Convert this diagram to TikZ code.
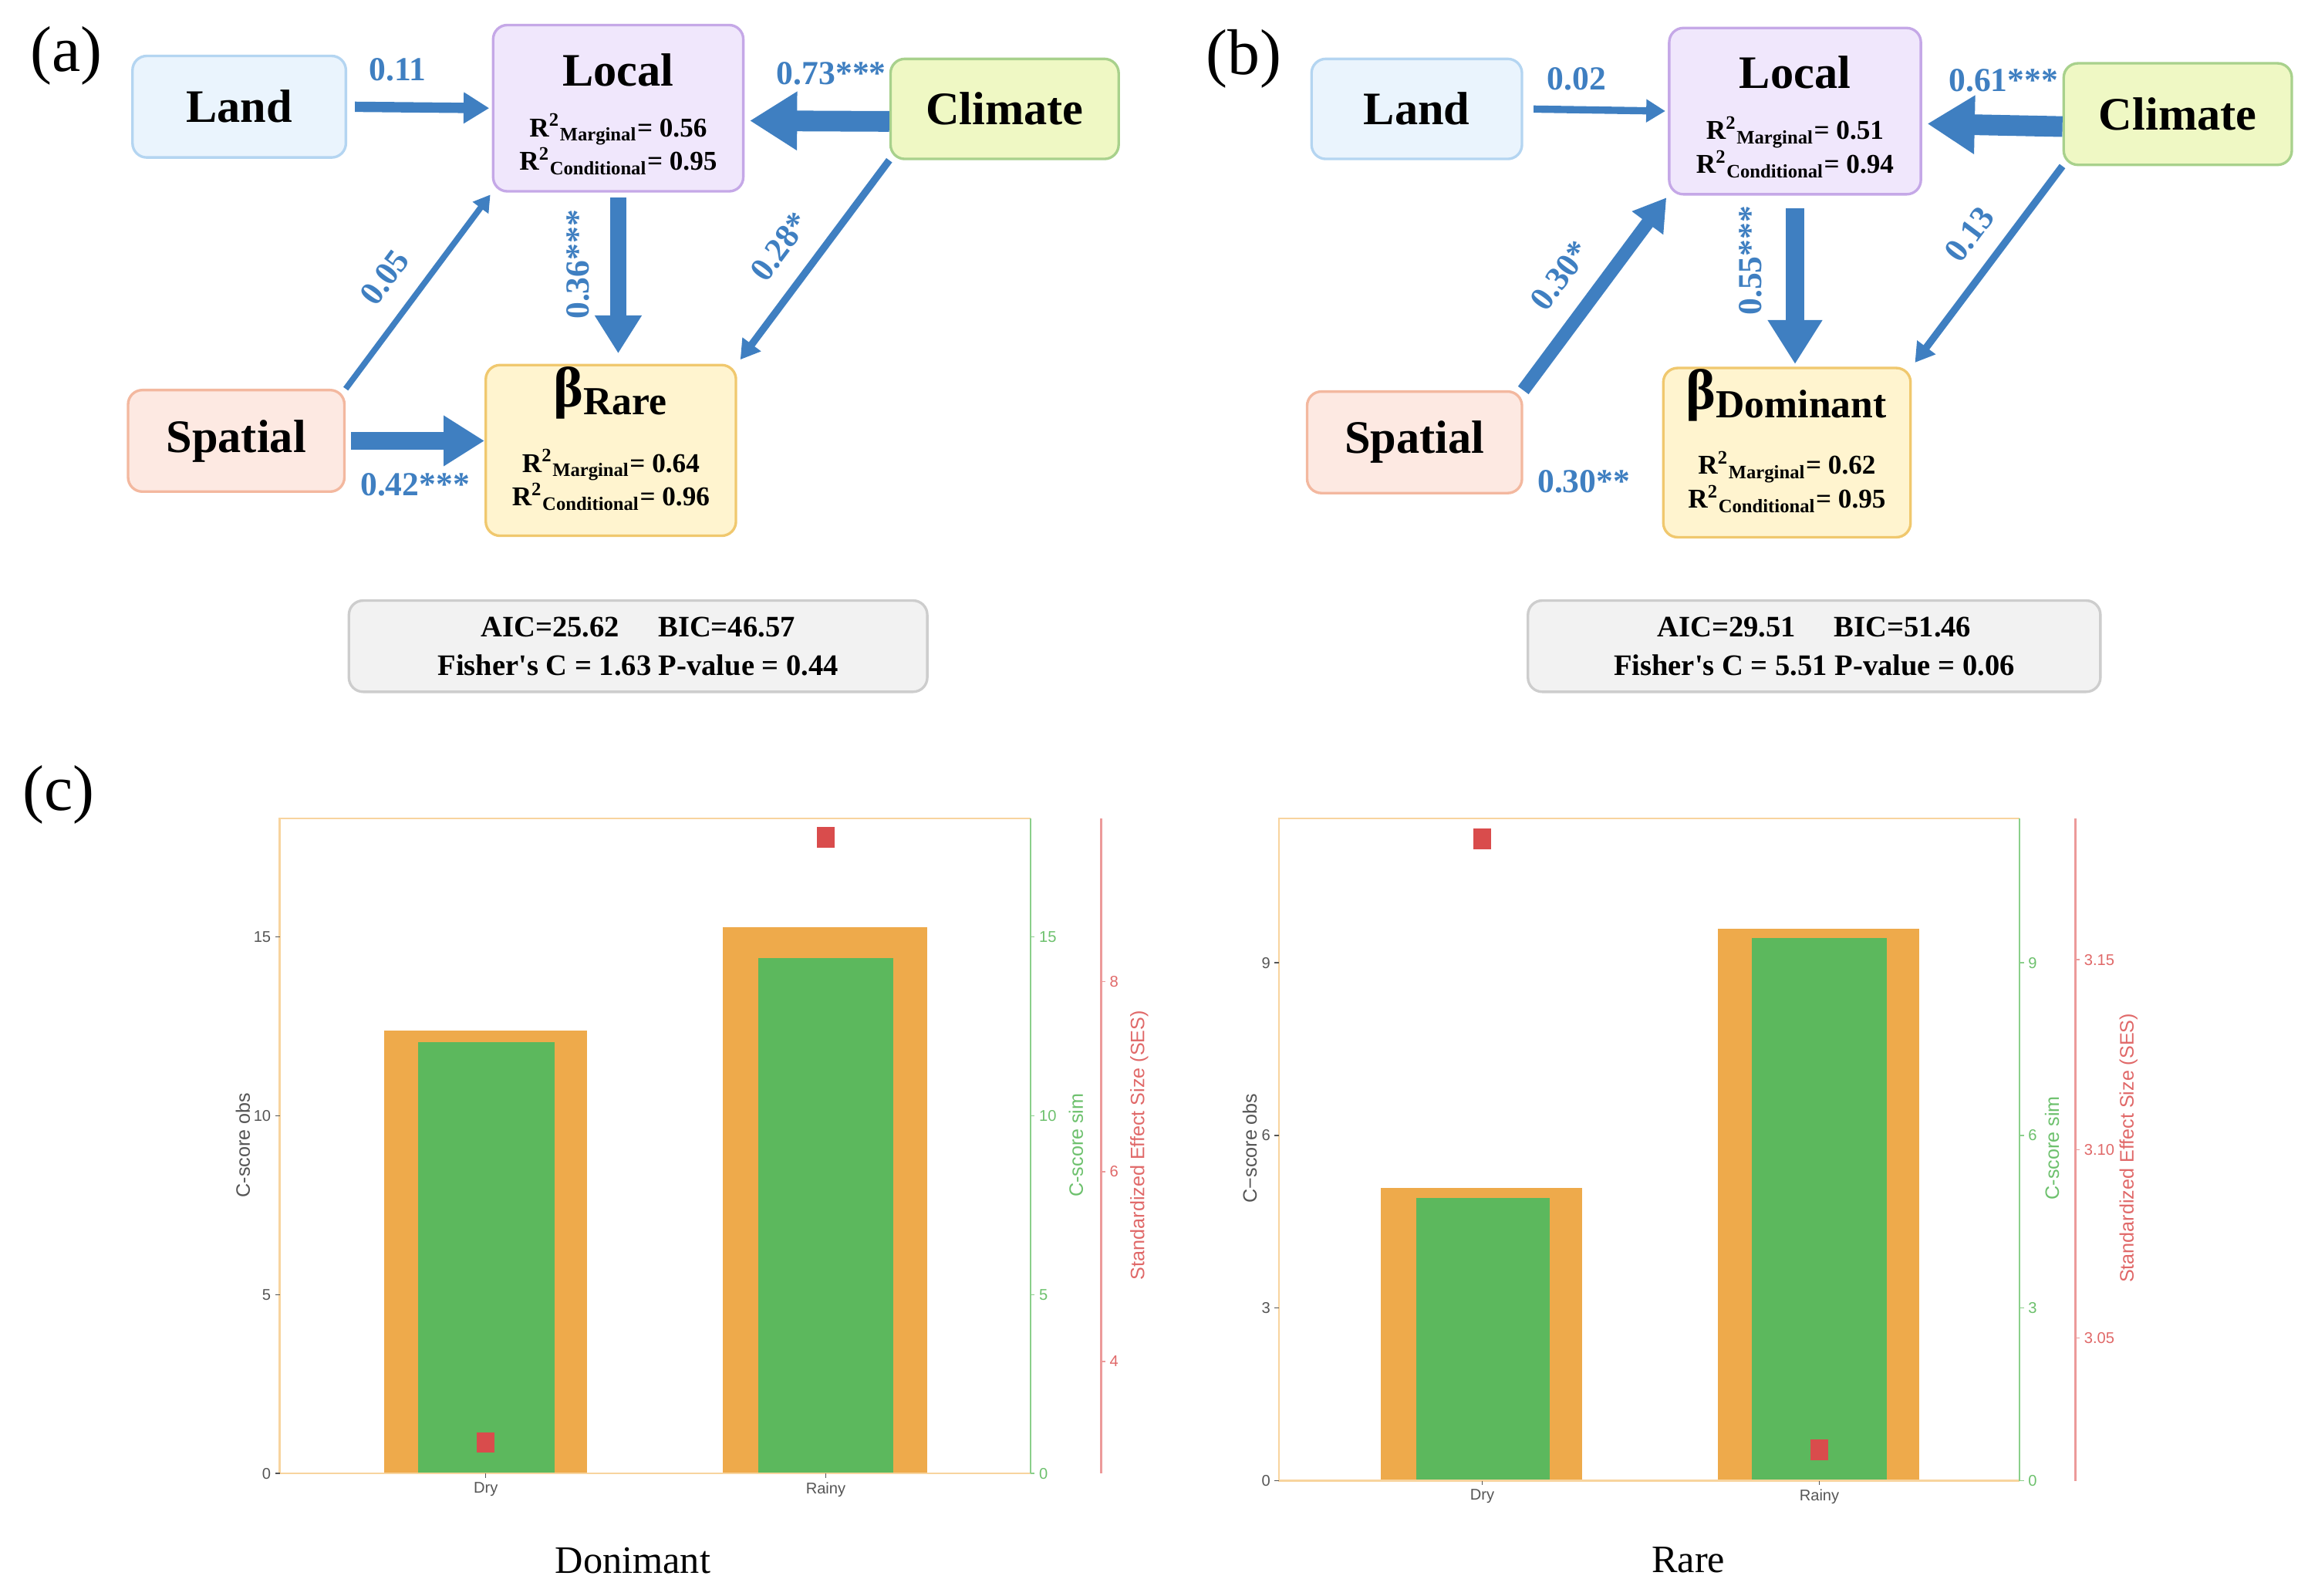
\documentclass[tikz,border=0pt]{standalone}
\usepackage{fontspec}
\setmainfont{Liberation Serif}
\setsansfont{Liberation Sans}
\newfontfamily\fitserif{Liberation Serif}[Ligatures=TeXOff]
\usetikzlibrary{arrows.meta}

\definecolor{arrowblue}{HTML}{3F7FC1}
\definecolor{landfill}{HTML}{EAF4FD}
\definecolor{landline}{HTML}{B4D5F1}
\definecolor{localfill}{HTML}{F0E7FC}
\definecolor{localline}{HTML}{C5A8E7}
\definecolor{climfill}{HTML}{EFF8C4}
\definecolor{climline}{HTML}{A8D18C}
\definecolor{spatfill}{HTML}{FDE9E2}
\definecolor{spatline}{HTML}{F3B89F}
\definecolor{betafill}{HTML}{FFF4CF}
\definecolor{betaline}{HTML}{F0C86E}
\definecolor{fitfill}{HTML}{F2F2F2}
\definecolor{fitline}{HTML}{CDCDCD}
\definecolor{barorange}{HTML}{EEAA4B}
\definecolor{bargreen}{HTML}{5CB85D}
\definecolor{sesred}{HTML}{D94C4C}
\definecolor{frameorange}{HTML}{F8D49E}
\definecolor{simgreen}{HTML}{8ACF8A}
\definecolor{simtext}{HTML}{6CC06C}
\definecolor{sesaxis}{HTML}{EC9A9A}
\definecolor{sestext}{HTML}{E06868}
\definecolor{obsgrey}{HTML}{555555}

\begin{document}
\begin{tikzpicture}[x=0.02cm,y=-0.02cm,
    box node/.style={rectangle,rounded corners=5.5pt,line width=1pt,align=center,inner sep=0pt,font=\fontsize{10.5}{13}\selectfont\bfseries},
    big text/.style={font=\fontsize{18}{21}\selectfont\bfseries},
    fit node/.style={rectangle,rounded corners=5.5pt,line width=1pt,fill=fitfill,draw=fitline,align=center,inner sep=0pt,font=\fitserif\fontsize{11.5}{15}\selectfont\bfseries},
    flow/.style={draw=arrowblue,line width=#1,-{Triangle[length=1.5pt 2.1,width=1.5pt 2.5]}},
    coef label/.style={font=\fontsize{13}{15}\selectfont\bfseries,text=arrowblue,inner sep=1pt},
    panel tag/.style={font=\fontsize{25}{28}\selectfont},
    tick label/.style={font=\sffamily\fontsize{6}{7}\selectfont,inner sep=1.5pt},
    axis title/.style={font=\sffamily\fontsize{7.5}{9}\selectfont,rotate=90},
    group title/.style={font=\fontsize{15}{18}\selectfont}]
    \useasboundingbox (0,0) rectangle (1568,1084);

    % (a) rare
    \node[panel tag] at (45,38) (tagA) {(a)};
    \node[box node,big text,fill=landfill,draw=landline,minimum width=2.9cm,minimum height=1.38cm] at (162.5,72.5) (landA) {Land};
    \node[box node,fill=localfill,draw=localline,minimum width=3.4cm,minimum height=2.26cm] at (420,73.5) (localA)
        {\rule{0pt}{17pt}{\fontsize{18}{21}\selectfont Local}\\[6.7pt] R\textsuperscript{2}\textsubscript{Marginal}= 0.56\\ R\textsuperscript{2}\textsubscript{Conditional}= 0.95};
    \node[box node,big text,fill=climfill,draw=climline,minimum width=3.1cm,minimum height=1.36cm] at (682.5,74) (climA) {Climate};
    \node[box node,big text,fill=spatfill,draw=spatline,minimum width=2.94cm,minimum height=1.38cm] at (160.5,299.5) (spatA) {Spatial};
    \node[box node,fill=betafill,draw=betaline,minimum width=3.4cm,minimum height=2.32cm] at (415,306) (rareA)
        {{\fontsize{22}{24}\selectfont β\textsubscript{Rare}}\\[10.8pt] R\textsuperscript{2}\textsubscript{Marginal}= 0.64\\ R\textsuperscript{2}\textsubscript{Conditional}= 0.96\rule[-11pt]{0pt}{1pt}};
    \node[fit node,minimum width=7.86cm,minimum height=1.24cm] at (433.5,439) (fitA)
        {AIC=25.62\hspace{1.3em}BIC=46.57\\ Fisher's C = 1.63 P-value = 0.44};

    \path[every node/.style={coef label}]
        (landA.east) edge[flow=4pt,shorten <=3pt,shorten >=1pt] node[above=7pt,pos=0.35] {0.11} (localA.west)
        ([yshift=-0.17cm]climA.west) edge[flow=8pt,shorten >=2pt] node[above=9pt,pos=0.4] {0.73***} ([yshift=-0.17cm]localA.east)
        (localA.south) edge[flow=6.3pt,shorten <=2pt,shorten >=4pt] node[rotate=90,above=7pt,pos=0.42] {0.36***} (localA.south |- rareA.north)
        (climA.south west) edge[flow=2.8pt,shorten >=2pt] node[sloped,above=7pt,pos=0.53] {0.28*} (rareA.north east)
        (spatA.north east) edge[flow=2.3pt,shorten >=1pt] node[sloped,above=7pt,pos=0.46] {0.05} (localA.south west)
        (spatA.east) edge[flow=6.8pt,shorten <=2pt] node[below=8pt] {0.42***} (spatA.east -| rareA.west);

    % (b) dominant
    \node[panel tag] at (845,40) (tagB) {(b)};
    \node[box node,big text,fill=landfill,draw=landline,minimum width=2.86cm,minimum height=1.36cm] at (962.5,74) (landB) {Land};
    \node[box node,fill=localfill,draw=localline,minimum width=3.42cm,minimum height=2.26cm] at (1219.5,75.5) (localB)
        {\rule{0pt}{17pt}{\fontsize{18}{21}\selectfont Local}\\[6.7pt] R\textsuperscript{2}\textsubscript{Marginal}= 0.51\\ R\textsuperscript{2}\textsubscript{Conditional}= 0.94};
    \node[box node,big text,fill=climfill,draw=climline,minimum width=3.1cm,minimum height=1.38cm] at (1479.5,77.5) (climB) {Climate};
    \node[box node,big text,fill=spatfill,draw=spatline,minimum width=2.92cm,minimum height=1.38cm] at (961,300.5) (spatB) {Spatial};
    \node[box node,fill=betafill,draw=betaline,minimum width=3.36cm,minimum height=2.3cm] at (1214,307.5) (domB)
        {{\fontsize{22}{24}\selectfont β\textsubscript{Dominant}}\\[10.8pt] R\textsuperscript{2}\textsubscript{Marginal}= 0.62\\ R\textsuperscript{2}\textsubscript{Conditional}= 0.95\rule[-11pt]{0pt}{1pt}};
    \node[fit node,minimum width=7.78cm,minimum height=1.24cm] at (1232.5,439) (fitB)
        {AIC=29.51\hspace{1.3em}BIC=51.46\\ Fisher's C = 5.51 P-value = 0.06};

    \path[every node/.style={coef label}]
        (landB.east) edge[flow=2.8pt,shorten <=4pt,shorten >=1pt] node[above=5pt,pos=0.37] {0.02} (localB.west)
        ([yshift=-0.17cm]climB.west) edge[flow=8pt,shorten >=2pt] node[above=8pt,pos=0.42] {0.61***} ([yshift=-0.17cm]localB.east)
        (localB.south) edge[flow=7.4pt,shorten <=5pt,shorten >=1pt] node[rotate=90,above=8pt,pos=0.38] {0.55***} (localB.south |- domB.north)
        (climB.south west) edge[flow=2.8pt,shorten >=2pt] node[sloped,above=6pt,pos=0.44] {0.13} (domB.north east)
        (spatB.north east) edge[flow=5.1pt,shorten >=1pt] node[sloped,above=7pt,pos=0.47] {0.30*} (localB.south west);
    \node[coef label] at (1076,327) (spatDomB) {0.30**};

    % (c) left chart
    \node[panel tag] at (40,540) (tagC) {(c)};
    \fill[barorange] (261,700) rectangle (399,1001);
    \fill[bargreen] (284,708) rectangle (377,1001);
    \fill[barorange] (491,630) rectangle (630,1001);
    \fill[bargreen] (515,651) rectangle (607,1001);
    \fill[sesred] (324,973) rectangle (336,987);
    \fill[sesred] (555,562) rectangle (567,576);
    \draw[frameorange,line width=0.7pt] (700,556) -- (190,556) -- (190,1001) -- (700,1001);
    \draw[simgreen,line width=0.7pt] (700,556) -- (700,1001);
    \draw[sesaxis,line width=0.7pt] (748,556) -- (748,1001);
    \foreach \v [count=\i] in {0,5,10,15} {
        \draw[obsgrey,line width=0.4pt] (190,{1001-24.3*\v}) -- (187,{1001-24.3*\v}) node[left,tick label,text=obsgrey] (obsD\i) {\v};
        \draw[simgreen,line width=0.4pt] (700,{1001-24.3*\v}) -- (703,{1001-24.3*\v}) node[right,tick label,text=simtext] (simD\i) {\v};
    }
    \foreach \v/\yy [count=\i] in {8/667,6/796,4/925}
        \draw[sesaxis,line width=0.4pt] (748,\yy) -- (751,\yy) node[right,tick label,text=sestext] (sesD\i) {\v};
    \draw[obsgrey,line width=0.4pt] (330,1001) -- (330,1004) node[below,tick label,text=obsgrey] (dryD) {Dry};
    \draw[obsgrey,line width=0.4pt] (561,1001) -- (561,1004) node[below,tick label,text=obsgrey] (rainyD) {Rainy};
    \node[axis title,text=obsgrey] at (165,778) (obsTitleD) {C-score obs};
    \node[axis title,text=simtext] at (731,778) (simTitleD) {C-score sim};
    \node[axis title,text=sestext] at (774,778) (sesTitleD) {Standardized Effect Size (SES)};
    \node[group title] at (430,1060) (nameD) {Donimant};

    % (c) right chart
    \fill[barorange] (938,807) rectangle (1075,1006);
    \fill[bargreen] (962,814) rectangle (1053,1006);
    \fill[barorange] (1167,631) rectangle (1304,1006);
    \fill[bargreen] (1190,637) rectangle (1282,1006);
    \fill[sesred] (1001,563) rectangle (1013,577);
    \fill[sesred] (1230,978) rectangle (1242,992);
    \draw[frameorange,line width=0.7pt] (1372,556) -- (869,556) -- (869,1006) -- (1372,1006);
    \draw[simgreen,line width=0.7pt] (1372,556) -- (1372,1006);
    \draw[sesaxis,line width=0.7pt] (1410,556) -- (1410,1006);
    \foreach \v [count=\i] in {0,3,6,9} {
        \draw[obsgrey,line width=0.4pt] (869,{1006-39.1*\v}) -- (866,{1006-39.1*\v}) node[left,tick label,text=obsgrey] (obsR\i) {\v};
        \draw[simgreen,line width=0.4pt] (1372,{1006-39.1*\v}) -- (1375,{1006-39.1*\v}) node[right,tick label,text=simtext] (simR\i) {\v};
    }
    \foreach \v/\yy [count=\i] in {3.15/652,3.10/781,3.05/909}
        \draw[sesaxis,line width=0.4pt] (1410,\yy) -- (1413,\yy) node[right,tick label,text=sestext] (sesR\i) {\v};
    \draw[obsgrey,line width=0.4pt] (1007,1006) -- (1007,1009) node[below,tick label,text=obsgrey] (dryR) {Dry};
    \draw[obsgrey,line width=0.4pt] (1236,1006) -- (1236,1009) node[below,tick label,text=obsgrey] (rainyR) {Rainy};
    \node[axis title,text=obsgrey] at (849,780) (obsTitleR) {C−score obs};
    \node[axis title,text=simtext] at (1394,780) (simTitleR) {C-score sim};
    \node[axis title,text=sestext] at (1446,780) (sesTitleR) {Standardized Effect Size (SES)};
    \node[group title] at (1147,1060) (nameR) {Rare};
\end{tikzpicture}
\end{document}
